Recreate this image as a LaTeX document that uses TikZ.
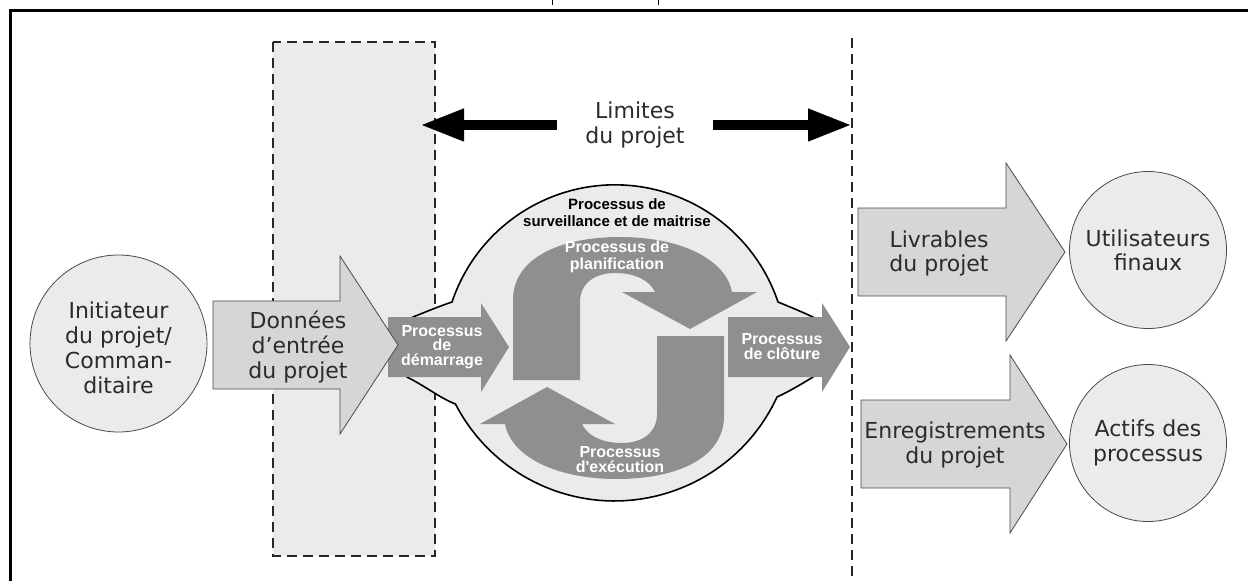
\documentclass[tikz,border=0pt]{standalone}
\usepackage{fontspec}
\setmainfont{DejaVu Sans}
\newfontfamily\procfont{Liberation Sans}
\usetikzlibrary{arrows.meta}

\definecolor{txt}{HTML}{2B2B2B}
\definecolor{pale}{HTML}{EBEBEB}
\definecolor{blockfill}{HTML}{D6D6D6}
\definecolor{procgray}{HTML}{8F8F8F}
\definecolor{edge}{HTML}{4A4A4A}

\begin{document}
\begin{tikzpicture}[x=1pt,y=-1pt,
  biglabel/.style={text=txt,align=center,inner sep=0pt,
    font=\fontsize{22}{25}\selectfont},
  proclabel/.style={text=white,align=center,inner sep=0pt,
    font=\procfont\bfseries\fontsize{16}{15}\selectfont},
  party/.style={circle,draw=edge,line width=0.8pt,fill=pale,inner sep=0pt},
  blockarrow/.style={draw=edge,line width=0.8pt,fill=blockfill},
  procarrow/.style={fill=procgray},
  boundary/.style={draw=black!85,line width=1.4pt,dash pattern=on 10pt off 6pt},
  limarrow/.style={line width=10pt,-{Triangle[length=44pt,width=30pt]}},
  blob/.style={fill=pale,draw=black,line width=1.6pt}
]
\useasboundingbox (0,0) rectangle (1248,581);

% frame
\draw[line width=3pt] (10,581) -- (10,10.5) -- (1248,10.5);
\draw[line width=1pt] (552,0) -- (552,5);
\draw[line width=1pt] (658,0) -- (658,5);

% inputs zone and project boundary
\path[boundary,fill=pale] (273,42) rectangle (435,556);
\draw[boundary,line width=1.2pt] (852,38) -- (852,581);

% project boundary label and arrows
\node[biglabel,minimum width=156pt] (limites) at (635,125) {Limites\\du projet};
\coordinate (limL) at (420,125);
\coordinate (limR) at (852,125);
\draw[limarrow] (limites.west) -- (limL);
\draw[limarrow] (limites.east) -- (limR);

% process group outline
\path[blob] (452,302) arc[start angle=198.6, end angle=341.4, radius=172]
  .. controls (790,307) and (800,311) .. (813,317)
  -- (815,330) -- (815,365) -- (813,377)
  .. controls (800,385) and (788,392) .. (777,397)
  arc[start angle=24.8, end angle=152.7, radius=179]
  .. controls (440,398) and (425,386) .. (407,377)
  -- (400,365) -- (400,325) -- (413,317)
  .. controls (428,311) and (440,306) .. (452,302) -- cycle;
\node[text=black,align=center,inner sep=0pt,
  font=\procfont\bfseries\fontsize{15}{17}\selectfont] (surv) at (617,213)
  {Processus de\\surveillance et de maitrise};

% initiating and closing processes
\path[procarrow] (388,317) -- (481,317) -- (481,303) -- (509,347)
  -- (481,392) -- (481,377) -- (388,377) -- cycle;
\node[proclabel,font=\procfont\bfseries\fontsize{16}{14.5}\selectfont] (demarr) at (442,347) {Processus\\de\\démarrage};
\path[procarrow] (728,317) -- (822,317) -- (822,303) -- (850,347)
  -- (822,392) -- (822,377) -- (728,377) -- cycle;
\node[proclabel] (cloture) at (782,347) {Processus\\de clôture};

% planning and executing loop
\path[procarrow] (513,380) -- (513,300)
  .. controls (513,258) and (560,237) .. (620,237)
  .. controls (682,237) and (726,260) .. (732,292)
  -- (757,292) -- (690,329) -- (622,292) -- (655,292)
  .. controls (650,281) and (636,273) .. (615,273)
  .. controls (594,273) and (580,284) .. (580,302) -- (580,380) -- cycle;
\path[procarrow,rotate around={180:(618.5,358)}] (513,380) -- (513,300)
  .. controls (513,258) and (560,237) .. (620,237)
  .. controls (682,237) and (726,260) .. (732,292)
  -- (757,292) -- (690,329) -- (622,292) -- (655,292)
  .. controls (650,281) and (636,273) .. (615,273)
  .. controls (594,273) and (580,284) .. (580,302) -- (580,380) -- cycle;
\node[proclabel,font=\procfont\bfseries\fontsize{16}{17}\selectfont] (planif) at (617,257) {Processus de\\planification};
\node[proclabel,font=\procfont\bfseries\fontsize{16}{15}\selectfont] (exec) at (620,460) {Processus\\d'exécution};

% sponsor and project inputs
\node[party,minimum size=177pt] (init) at (118.5,343.5) {};
\node[biglabel] (initlbl) at (118.5,348) {Initiateur\\du projet/\\Comman-\\ditaire};
\path[blockarrow] (213,301) -- (340,301) -- (340,256) -- (398,345)
  -- (340,434) -- (340,389) -- (213,389) -- cycle;
\node[biglabel] (donnees) at (298,347) {Données\\d'entrée\\du projet};

% project outputs
\path[blockarrow] (858,208) -- (1006,208) -- (1006,163) -- (1065,252)
  -- (1006,341) -- (1006,296) -- (858,296) -- cycle;
\node[biglabel,font=\fontsize{22}{24}\selectfont] (livr) at (939,253) {Livrables\\du projet};
\path[blockarrow] (861,400) -- (1010,400) -- (1010,355) -- (1067,444)
  -- (1010,533) -- (1010,488) -- (861,488) -- cycle;
\node[biglabel] (enreg) at (955,445) {Enregistrements\\du projet};

\node[party,minimum size=157pt] (util) at (1148,250) {};
\node[biglabel,font=\fontsize{22}{24}\selectfont] at (util) {Utilisateurs\\finaux};
\node[party,minimum size=157pt] (actifs) at (1148,443) {};
\node[biglabel] at (actifs) {Actifs des\\processus};
\end{tikzpicture}
\end{document}
